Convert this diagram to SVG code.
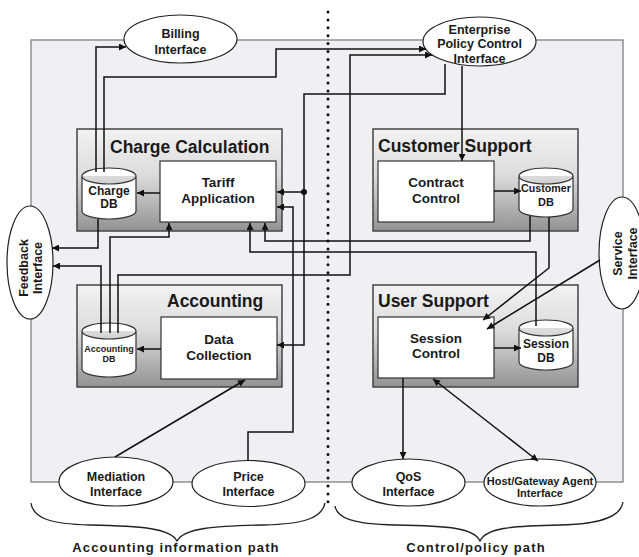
<svg xmlns="http://www.w3.org/2000/svg" width="639" height="557" viewBox="0 0 639 557">
  <style>
    text { font-family: "Liberation Sans", Arial, sans-serif; font-weight: bold; fill: #1a1a1a; text-anchor: middle; }
    .title { font-size: 17.5px; text-anchor: start; }
    .lbl { font-size: 13.5px; }
    .ell-t { font-size: 12.5px; }
    .db-t { font-size: 12px; }
    .small { font-size: 10.5px; }
    .path-t { font-size: 13px; letter-spacing: 1.1px; }
    .iface { fill: #ffffff; stroke: #222; stroke-width: 1.2; }
    .group-box { fill: url(#boxShade); stroke: #444; stroke-width: 1.5; }
    .inner { fill: #ffffff; stroke: #333; stroke-width: 1.2; }
    .cyl { fill: #ffffff; stroke: #333; stroke-width: 1.2; }
    .wire { fill: none; stroke: #111; stroke-width: 1.5; }
    .arr { marker-end: url(#head); }
    .brace { fill: none; stroke: #222; stroke-width: 1.3; }
  </style>
  <defs>
    <linearGradient id="boxShade" x1="0" y1="0" x2="0" y2="1">
      <stop offset="0" stop-color="#f2f2f2"/>
      <stop offset="0.45" stop-color="#dcdcdc"/>
      <stop offset="1" stop-color="#929292"/>
    </linearGradient>
    <marker id="head" viewBox="0 0 10 10" refX="10" refY="5" markerWidth="8" markerHeight="7" markerUnits="userSpaceOnUse" orient="auto-start-reverse">
      <path d="M0,0 L10,5 L0,10 z" fill="#111"/>
    </marker>
  </defs>

  <!-- system boundary -->
  <rect x="31" y="40" width="592" height="442" fill="#eef0f3" stroke="#808080" stroke-width="1.3"/>

  <!-- divider between the two paths -->
  <line x1="328" y1="12" x2="328" y2="506" stroke="#111" stroke-width="3" stroke-linecap="round" stroke-dasharray="0 7.9"/>

  <!-- Charge Calculation -->
  <g id="charge-calculation">
    <rect class="group-box" x="77" y="129" width="205" height="102"/>
    <text class="title" x="110" y="153">Charge Calculation</text>
  </g>
  <g id="tariff-application">
    <rect class="inner" x="160" y="161" width="116" height="61"/>
    <text class="lbl" x="218" y="187">Tariff</text>
    <text class="lbl" x="218" y="203">Application</text>
  </g>
  <g id="charge-db">
    <path class="cyl" d="M82,176 A27,8 0 0 1 136,176 V211 A27,8 0 0 1 82,211 Z M82,176 A27,8 0 0 0 136,176"/>
    <text class="db-t" x="109" y="195">Charge</text>
    <text class="db-t" x="109" y="208">DB</text>
  </g>

  <!-- Accounting -->
  <g id="accounting">
    <rect class="group-box" x="77" y="285" width="205" height="102"/>
    <text class="title" x="167" y="307">Accounting</text>
  </g>
  <g id="data-collection">
    <rect class="inner" x="161" y="317" width="116" height="62"/>
    <text class="lbl" x="219" y="344">Data</text>
    <text class="lbl" x="219" y="360">Collection</text>
  </g>
  <g id="accounting-db">
    <path class="cyl" d="M82,331 A27,8 0 0 1 136,331 V369 A27,8 0 0 1 82,369 Z M82,331 A27,8 0 0 0 136,331"/>
    <text x="109" y="352" style="font-size:9px">Accounting</text>
    <text x="109" y="362" style="font-size:9px">DB</text>
  </g>

  <!-- Customer Support -->
  <g id="customer-support">
    <rect class="group-box" x="373" y="129" width="205" height="102"/>
    <text class="title" x="378" y="152">Customer Support</text>
  </g>
  <g id="contract-control">
    <rect class="inner" x="378" y="161" width="116" height="61"/>
    <text class="lbl" x="436" y="187">Contract</text>
    <text class="lbl" x="436" y="203">Control</text>
  </g>
  <g id="customer-db">
    <path class="cyl" d="M519,176 A27,8 0 0 1 573,176 V209 A27,8 0 0 1 519,209 Z M519,176 A27,8 0 0 0 573,176"/>
    <text x="546" y="192" style="font-size:10.7px">Customer</text>
    <text x="546" y="206" style="font-size:11px">DB</text>
  </g>

  <!-- User Support -->
  <g id="user-support">
    <rect class="group-box" x="373" y="285" width="205" height="102"/>
    <text class="title" x="378" y="307">User Support</text>
  </g>
  <g id="session-control">
    <rect class="inner" x="378" y="317" width="116" height="61"/>
    <text class="lbl" x="436" y="343">Session</text>
    <text class="lbl" x="436" y="358">Control</text>
  </g>
  <g id="session-db">
    <path class="cyl" d="M519,328 A27,8 0 0 1 573,328 V362 A27,8 0 0 1 519,362 Z M519,328 A27,8 0 0 0 573,328"/>
    <text class="db-t" x="546" y="348">Session</text>
    <text class="db-t" x="546" y="362">DB</text>
  </g>

  <!-- Interfaces -->
  <g id="billing-interface">
    <ellipse class="iface" cx="180.5" cy="39" rx="56.5" ry="24"/>
    <text class="ell-t" x="180.5" y="38">Billing</text>
    <text class="ell-t" x="180.5" y="54">Interface</text>
  </g>
  <g id="enterprise-policy-control-interface">
    <ellipse class="iface" cx="479.5" cy="41.5" rx="56.5" ry="24.5"/>
    <text class="ell-t" x="479.5" y="33.5">Enterprise</text>
    <text class="ell-t" x="479.5" y="48">Policy Control</text>
    <text class="ell-t" x="479.5" y="63">Interface</text>
  </g>
  <g id="feedback-interface">
    <ellipse class="iface" cx="30" cy="262.5" rx="23" ry="56.5"/>
    <text class="ell-t" transform="translate(27.5,268) rotate(-90)">Feedback</text>
    <text class="ell-t" transform="translate(42,268) rotate(-90)">Interface</text>
  </g>
  <g id="service-interface">
    <ellipse class="iface" cx="622" cy="253" rx="23" ry="56"/>
    <text class="ell-t" transform="translate(621.5,253.5) rotate(-90)">Service</text>
    <text class="ell-t" transform="translate(636.5,253.5) rotate(-90)">Interface</text>
  </g>
  <g id="mediation-interface">
    <ellipse class="iface" cx="116" cy="481.5" rx="57" ry="24.5"/>
    <text class="ell-t" x="116" y="481">Mediation</text>
    <text class="ell-t" x="116" y="496">Interface</text>
  </g>
  <g id="price-interface">
    <ellipse class="iface" cx="248.5" cy="483.5" rx="56.5" ry="23"/>
    <text class="ell-t" x="248.5" y="481">Price</text>
    <text class="ell-t" x="248.5" y="496">Interface</text>
  </g>
  <g id="qos-interface">
    <ellipse class="iface" cx="408.5" cy="482.5" rx="56.5" ry="23.5"/>
    <text class="ell-t" x="408.5" y="481">QoS</text>
    <text class="ell-t" x="408.5" y="496">Interface</text>
  </g>
  <g id="host-gateway-agent-interface">
    <ellipse class="iface" cx="540" cy="482.5" rx="56" ry="23.5"/>
    <text class="small" x="540" y="485" style="font-size:11px">Host/Gateway Agent</text>
    <text class="small" x="540" y="497" style="font-size:11px">Interface</text>
  </g>

  <!-- connectors -->
  <g id="connectors">
    <path class="wire arr" d="M96,172 V47 H126"/>
    <path class="wire arr" d="M104,172 V77 H276 V49 H426"/>
    <path class="wire arr" d="M118,333 V275 H350 V55 H432"/>
    <path class="wire arr" d="M445,64 V94 H304 V345 H277"/>
    <path class="wire arr" d="M304,192 H277"/>
    <circle cx="304" cy="192" r="3" fill="#111"/>
    <path class="wire arr" d="M462,66 V161"/>
    <path class="wire arr" d="M248,461 V432 H293 V207 H277"/>
    <path class="wire arr" d="M494,191 H521"/>
    <path class="wire arr" d="M530,216 V241 H265 V223"/>
    <path class="wire arr" d="M549,217 V268 L483,320"/>
    <path class="wire arr" d="M600,260 L487,329"/>
    <path class="wire arr" d="M536,326 V252 H250 V223"/>
    <path class="wire arr" d="M98,219 V248 H52"/>
    <path class="wire arr" d="M101,333 V266 H53"/>
    <path class="wire arr" d="M110,333 V237 H169 V223"/>
    <path class="wire arr" d="M160,193 H137"/>
    <path class="wire arr" d="M161,349 H137"/>
    <path class="wire arr" d="M115,457 L245,380"/>
    <path class="wire arr" d="M403,378 V459"/>
    <path class="wire arr" d="M433,379 L538,461" marker-start="url(#head)"/>
    <path class="wire arr" d="M494,348 H521"/>
  </g>

  <!-- path braces and captions -->
  <path class="brace" d="M31,503 C33,518 50,524 90,525 C140,526 170,528 177,541 C184,528 214,526 264,525 C304,524 322,518 325,503"/>
  <path class="brace" d="M335,506 C337,518 352,524 395,525 C450,526 474,528 480,541 C486,528 510,526 560,525 C603,524 621,516 623,502"/>
  <text class="path-t" x="176" y="552">Accounting information path</text>
  <text class="path-t" x="476" y="552">Control/policy path</text>
</svg>
